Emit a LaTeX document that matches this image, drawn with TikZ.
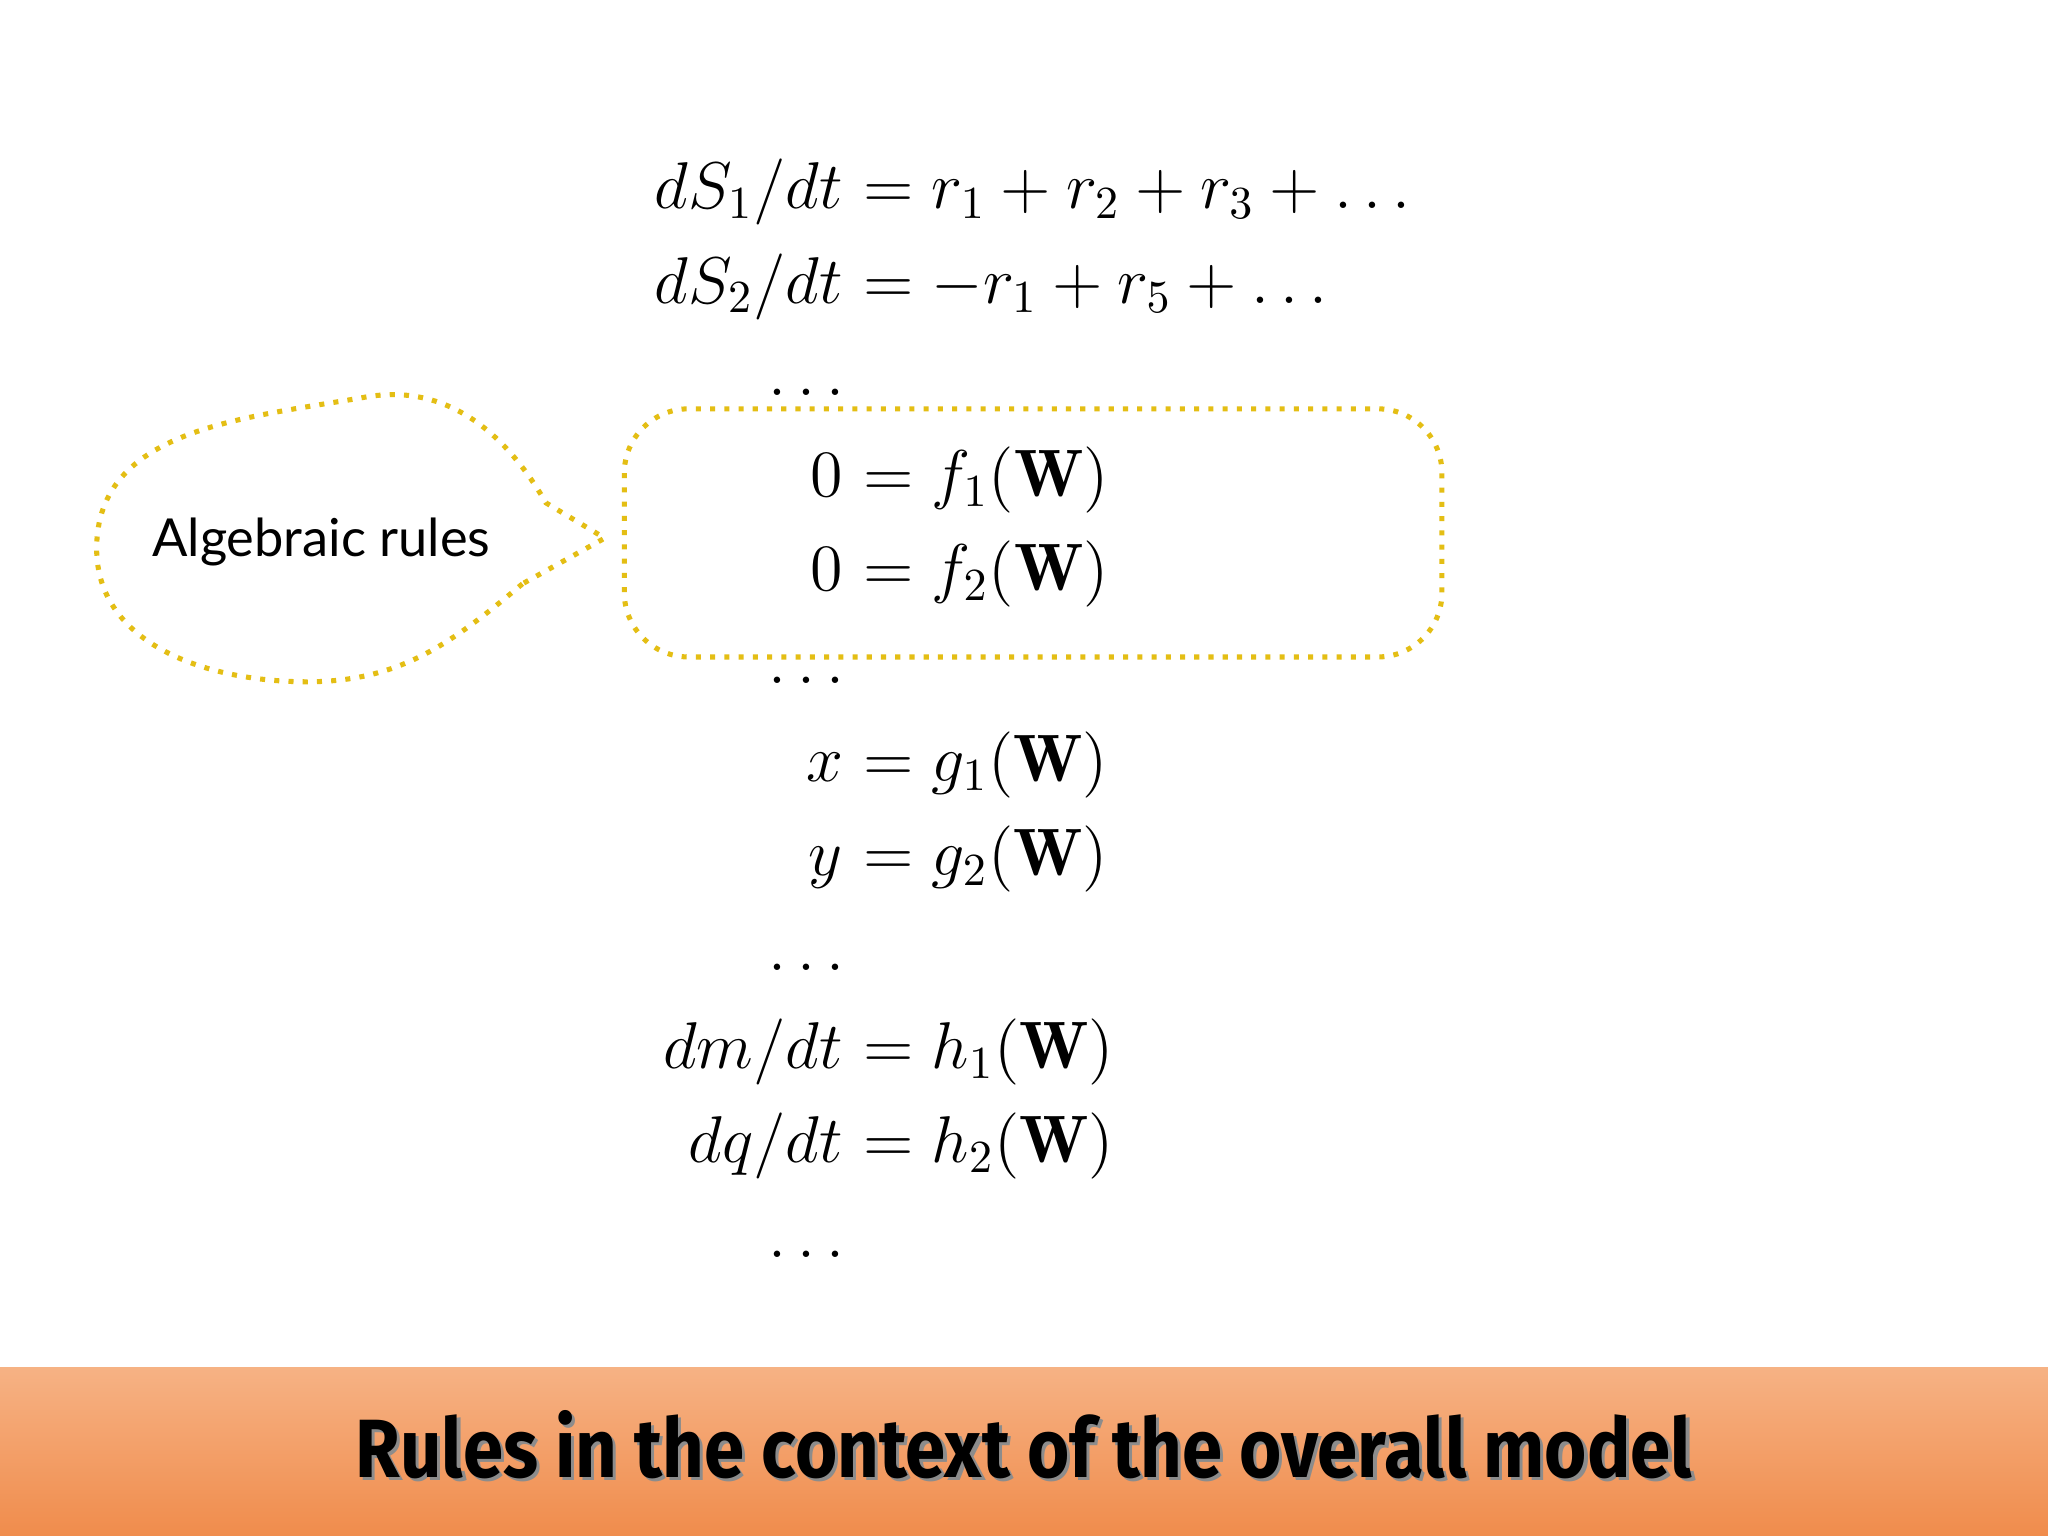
\documentclass[tikz,border=0pt]{standalone}
\usepackage{fontspec}
\usepackage{amsmath}
\newfontfamily\labelfont{Lato}
\newfontfamily\titlefont{Fira Sans}
\definecolor{gold}{RGB}{228,190,20}
\definecolor{bannertop}{RGB}{246,178,132}
\definecolor{bannerbot}{RGB}{240,140,76}
\tikzset{
  eql/.style={anchor=base east,inner sep=0pt,font=\fontsize{14.6}{18}\selectfont},
  eqr/.style={anchor=base west,inner sep=0pt,font=\fontsize{14.6}{18}\selectfont},
  goldline/.style={draw=gold,line width=1.1pt,dotted}
}
\begin{document}
\begin{tikzpicture}[x=0.01cm,y=-0.01cm]
\useasboundingbox (0,0) rectangle (1568,1176);
\fill[white] (0,0) rectangle (1568,1176);
% equations
\newcommand{\eqrow}[4]{\node[eql] (#1l) at (646,#2) {$#3$}; \node[eqr] (#1r) at (646,#2) {${}=#4$};}
\eqrow{a}{160}{dS_1/dt}{r_1+r_2+r_3+\ldots}
\eqrow{b}{232}{dS_2/dt}{-r_1+r_5+\ldots}
\node[eqr] (d1) at (588,303) {$\ldots$};
\eqrow{c}{380}{0}{f_1(\mathbf{W})}
\eqrow{d}{452}{0}{f_2(\mathbf{W})}
\node[eqr] (d2) at (588,523) {$\ldots$};
\eqrow{e}{598}{x}{g_1(\mathbf{W})}
\eqrow{f}{670}{y}{g_2(\mathbf{W})}
\node[eqr] (d3) at (588,743) {$\ldots$};
\eqrow{g}{818}{dm/dt}{h_1(\mathbf{W})}
\eqrow{h}{890}{dq/dt}{h_2(\mathbf{W})}
\node[eqr] (d4) at (588,963) {$\ldots$};
% box
\draw[goldline,rounded corners=14] (478,313) rectangle (1104,503);
% bubble
\draw[goldline] (400,447) to[out=220,in=0] (235,522) to[out=180,in=-90] (74,420)
  to[out=90,in=190] (280,304) to[out=10,in=120] (418,385) -- (463,412) -- cycle;
\node[font=\labelfont\fontsize{11.4}{14}\selectfont] (lab) at (246,415) {Algebraic rules};
% banner
\shade[top color=bannertop,bottom color=bannerbot] (0,1047) rectangle (1568,1176);
\node[anchor=base,inner sep=0pt,text=black!45] (tsh) at (786.5,1133.5) {\resizebox{291pt}{14.6pt}{\titlefont\bfseries Rules in the context of the overall model}};
\node[anchor=base,inner sep=0pt] (title) at (784,1131) {\resizebox{291pt}{14.6pt}{\titlefont\bfseries Rules in the context of the overall model}};
\end{tikzpicture}
\end{document}
